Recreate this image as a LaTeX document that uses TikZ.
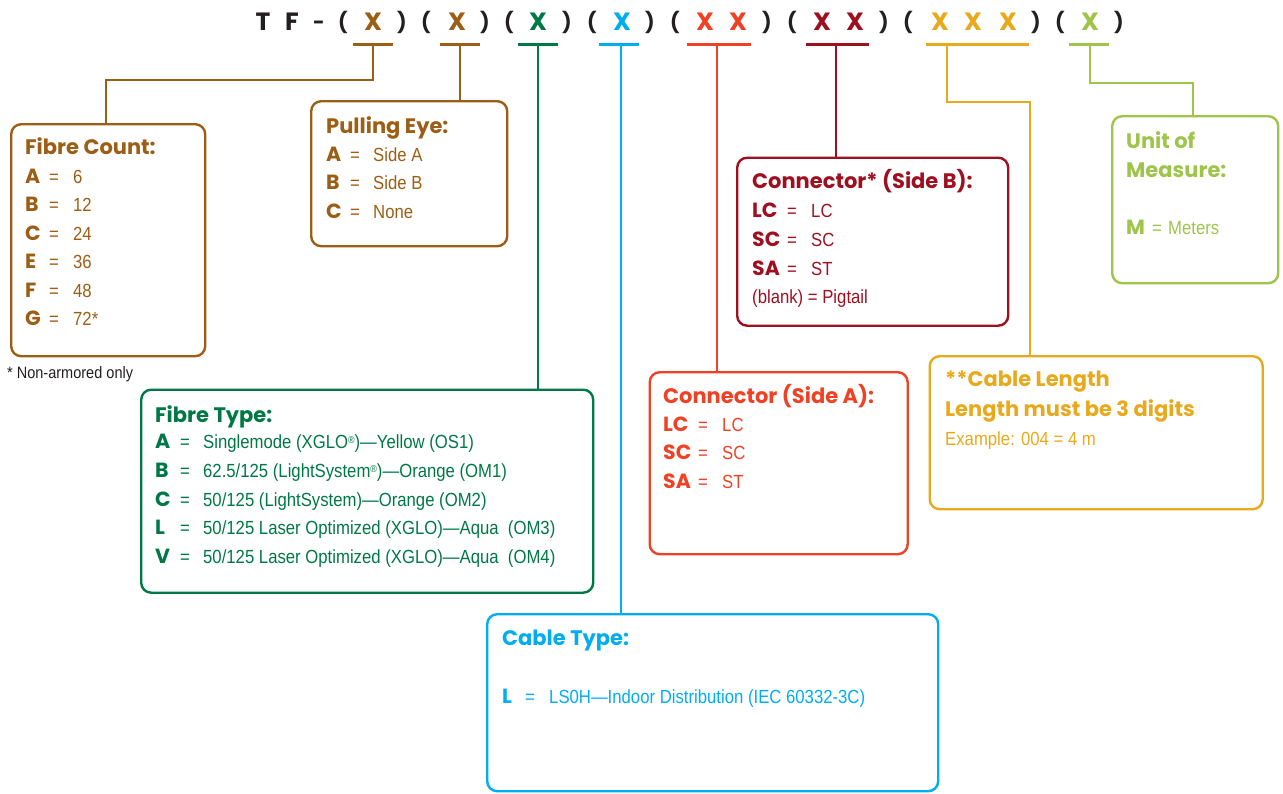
\documentclass[tikz,border=0pt]{standalone}
\usepackage{fontspec}
\setmainfont{Liberation Sans}[FakeStretch=0.88]
\newfontfamily\hdfont{Poppins}
\definecolor{brownC}{RGB}{156,93,20}
\definecolor{greenC}{RGB}{0,120,70}
\definecolor{cyanC}{RGB}{0,174,239}
\definecolor{redC}{RGB}{239,65,35}
\definecolor{dredC}{RGB}{158,16,32}
\definecolor{goldC}{RGB}{232,169,28}
\definecolor{lgreenC}{RGB}{158,196,76}
\definecolor{blackC}{RGB}{35,31,32}
\newcommand{\regmk}{{\fontsize{10}{10}\selectfont\raisebox{5pt}{®}}}
\begin{document}
\begin{tikzpicture}[x=1pt,y=-1pt,
  frame/.style={draw, line width=2.4pt, rounded corners=10pt, inner sep=0pt, anchor=north west},
  link/.style={line width=2.4pt},
  barline/.style={line width=3pt},
  hd/.style={font=\hdfont\bfseries\fontsize{21}{24}\selectfont, anchor=base west, inner sep=0pt},
  lab/.style={font=\hdfont\bfseries\fontsize{20.5}{22}\selectfont, anchor=base west, inner sep=0pt},
  val/.style={font=\fontsize{19}{22}\selectfont, anchor=base west, inner sep=0pt},
  hx/.style={font=\hdfont\bfseries\fontsize{25}{28}\selectfont, anchor=base, inner sep=0pt},
  hp/.style={font=\hdfont\bfseries\fontsize{20}{24}\selectfont, anchor=base, inner sep=0pt}]
\useasboundingbox (0,0) rectangle (1283,793);

% header letters
\foreach \px/\ch/\cl [count=\i] in {263/T/blackC,292/F/blackC,
  373/X/brownC,457/X/brownC,538/X/greenC,622/X/cyanC,
  705/X/redC,738/X/redC,822/X/dredC,855/X/dredC,
  940/X/goldC,973/X/goldC,1008/X/goldC,1090/X/lgreenC}
  {\node[hx, text=\cl] (h\i) at (\px,30) {\ch};}
% header punctuation
\foreach \px/\ch [count=\i] in {319/-,343/(,402/),426/(,485/),509/(,567/),592/(,650/),
  675/(,767/),792/(,884/),908/(,1036/),1060/(,1119/)}
  {\node[hp, text=blackC] (p\i) at (\px,29) {\ch};}

% boxes
\node[frame, brownC,  minimum width=194pt, minimum height=232pt] (fc) at (10,123) {};
\node[frame, brownC,  minimum width=196pt, minimum height=145pt] (pe) at (310,100) {};
\node[frame, greenC,  minimum width=452pt, minimum height=203pt] (ft) at (140,388.5) {};
\node[frame, cyanC,   minimum width=451pt, minimum height=177pt] (ct) at (486,613) {};
\node[frame, redC,    minimum width=258pt, minimum height=182pt] (ca) at (648.5,371) {};
\node[frame, dredC,   minimum width=271pt, minimum height=168pt] (cb) at (736,156.5) {};
\node[frame, goldC,   minimum width=333pt, minimum height=153pt] (cl) at (928.5,355) {};
\node[frame, lgreenC, minimum width=166pt, minimum height=167pt] (um) at (1111,115) {};

% bars and connectors
\coordinate (b1) at (373,44);
\coordinate (b2) at (460,44);
\coordinate (b3) at (538,44);
\coordinate (b4) at (621,44);
\coordinate (b5) at (717,44);
\coordinate (b6) at (836,44);
\coordinate (b7) at (947,44);
\coordinate (b8) at (1090,44);
\coordinate (k1) at (106,80);
\coordinate (k7) at (1030,102);
\coordinate (k8) at (1193,83);

\draw[barline, brownC] ([xshift=-20pt]b1) -- ([xshift=20pt]b1);
\draw[barline, brownC] ([xshift=-20pt]b2) -- ([xshift=20pt]b2);
\draw[barline, greenC] ([xshift=-20pt]b3) -- ([xshift=20pt]b3);
\draw[barline, cyanC] ([xshift=-22pt]b4) -- ([xshift=18pt]b4);
\draw[barline, redC] ([xshift=-30pt]b5) -- ([xshift=34pt]b5);
\draw[barline, dredC] ([xshift=-30pt]b6) -- ([xshift=33pt]b6);
\draw[barline, goldC] ([xshift=-21pt]b7) -- ([xshift=82pt]b7);
\draw[barline, lgreenC] ([xshift=-21pt]b8) -- ([xshift=19pt]b8);

\draw[link, brownC] (b1) |- (k1) -- (k1 |- fc.north);
\draw[link, brownC] (b2) -- (b2 |- pe.north);
\draw[link, greenC] (b3) -- (b3 |- ft.north);
\draw[link, cyanC] (b4) -- (b4 |- ct.north);
\draw[link, redC] (b5) -- (b5 |- ca.north);
\draw[link, dredC] (b6) -- (b6 |- cb.north);
\draw[link, goldC] (b7) |- (k7) -- (k7 |- cl.north);
\draw[link, lgreenC] (b8) |- (k8) -- (k8 |- um.north);

% Fibre Count
\node[hd, text=brownC] (fch) at (25,154) {Fibre Count:};
\foreach \l/\v [count=\i] in {A/6,B/12,C/24,E/36,F/48,G/72*}{
  \node[lab, text=brownC] (fcl\i) at (25,{183+28.5*(\i-1)}) {\l};
  \node[val, text=brownC] (fce\i) at (49,{183+28.5*(\i-1)}) {=};
  \node[val, text=brownC] (fcv\i) at (73,{183+28.5*(\i-1)}) {\v};
}
\node[val, text=blackC, font=\fontsize{16.5}{20}\selectfont] (note) at (7,378) {* Non-armored only};

% Pulling Eye
\node[hd, text=brownC] (peh) at (326,133) {Pulling Eye:};
\foreach \l/\v [count=\i] in {A/Side A,B/Side B,C/None}{
  \node[lab, text=brownC] (pel\i) at (326,{161+28.5*(\i-1)}) {\l};
  \node[val, text=brownC] (pee\i) at (350,{161+28.5*(\i-1)}) {=};
  \node[val, text=brownC] (pev\i) at (373,{161+28.5*(\i-1)}) {\v};
}

% Fibre Type
\node[hd, text=greenC] (fth) at (155,422) {Fibre Type:};
\foreach \l/\v [count=\i] in {A/{Singlemode (XGLO\regmk)—Yellow (OS1)},
  B/{62.5/125 (LightSystem\regmk)—Orange (OM1)},
  C/{50/125 (LightSystem)—Orange (OM2)},
  L/{50/125 Laser Optimized (XGLO)—Aqua\ \ (OM3)},
  V/{50/125 Laser Optimized (XGLO)—Aqua\ \ (OM4)}}{
  \node[lab, text=greenC] (ftl\i) at (155,{448.5+28.75*(\i-1)}) {\l};
  \node[val, text=greenC] (fte\i) at (180,{448.5+28.75*(\i-1)}) {=};
  \node[val, text=greenC] (ftv\i) at (203,{448.5+28.75*(\i-1)}) {\v};
}

% Cable Type
\node[hd, text=cyanC] (cth) at (502,645.5) {Cable Type:};
\node[lab, text=cyanC] (ctl) at (502,703) {L};
\node[val, text=cyanC] (cte) at (525,703) {=};
\node[val, text=cyanC] (ctv) at (549,703) {LS0H—Indoor Distribution (IEC 60332-3C)};

% Connector Side A
\node[hd, text=redC] (cah) at (663,403.5) {Connector (Side A):};
\foreach \l/\v [count=\i] in {LC/LC,SC/SC,SA/ST}{
  \node[lab, text=redC] (cal\i) at (663,{431.5+28.4*(\i-1)}) {\l};
  \node[val, text=redC] (cae\i) at (698,{431.5+28.4*(\i-1)}) {=};
  \node[val, text=redC] (cav\i) at (722,{431.5+28.4*(\i-1)}) {\v};
}

% Connector Side B
\node[hd, text=dredC] (cbh) at (752,188) {Connector* (Side B):};
\foreach \l/\v [count=\i] in {LC/LC,SC/SC,SA/ST}{
  \node[lab, text=dredC] (cbl\i) at (752,{217+29*(\i-1)}) {\l};
  \node[val, text=dredC] (cbe\i) at (787,{217+29*(\i-1)}) {=};
  \node[val, text=dredC] (cbv\i) at (811,{217+29*(\i-1)}) {\v};
}
\node[val, text=dredC] (cbb) at (752,303) {(blank) = Pigtail};

% Cable Length
\node[hd, text=goldC] (clh1) at (945,386.5) {**Cable Length};
\node[hd, text=goldC] (clh2) at (945,416) {Length must be 3 digits};
\node[val, text=goldC] (clv) at (945,445) {Example: 004 = 4 m};

% Unit of Measure
\node[hd, text=lgreenC] (umh1) at (1126,148.5) {Unit of};
\node[hd, text=lgreenC] (umh2) at (1126,177) {Measure:};
\node[lab, text=lgreenC] (uml) at (1126,234) {M};
\node[val, text=lgreenC] (ume) at (1152,234) {=};
\node[val, text=lgreenC] (umv) at (1168,234) {Meters};
\end{tikzpicture}
\end{document}
